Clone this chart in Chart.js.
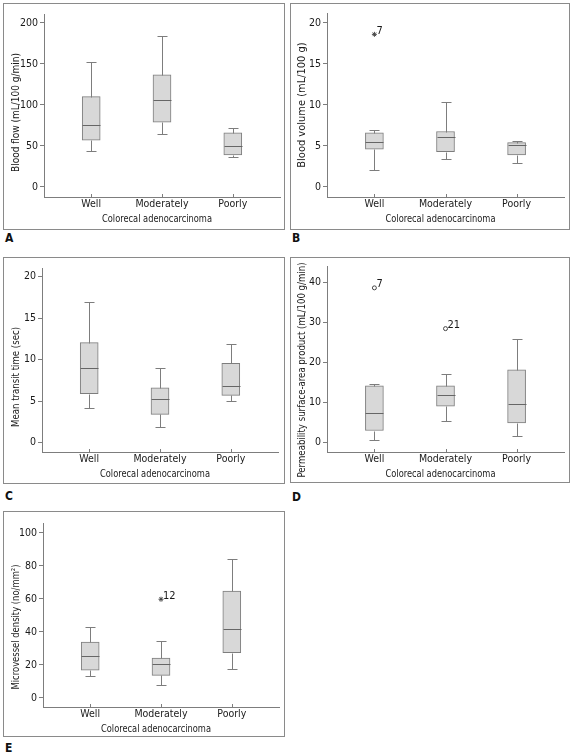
<!DOCTYPE html>
<html>
<head>
<meta charset="utf-8">
<script src="https://cdn.jsdelivr.net/npm/chart.js@4.4.1/dist/chart.umd.min.js"></script>
<style>
  body { margin: 0; background: #fff; width: 574px; height: 754px; position: relative; overflow: hidden; }
  .frame { position: absolute; border: 1px solid #8a8a8a; box-sizing: border-box; }
  canvas { position: absolute; }
  .tag { position: absolute; font: bold 12px 'DejaVu Sans Condensed', sans-serif; color: #111; line-height: 12px; }
</style>
</head>
<body>
<div class="tag" style="left:5px;top:232px">A</div>
<div class="tag" style="left:292px;top:232px">B</div>
<div class="tag" style="left:5px;top:490px">C</div>
<div class="tag" style="left:292px;top:491px">D</div>
<div class="tag" style="left:5px;top:742px">E</div>

<script>
// categorie
const groups = ['Well', 'Moderately', 'Poorly'];
const xTitle = 'Colorecal adenocarcinoma';

// A - blood flow (mL/100 g/min): min, Q1, mediana, Q3, max
const flowLow = [44, 64.5, 37];
const flowQ1 = [57, 79, 39];
const flowMed = [75, 106, 50];
const flowQ3 = [110, 136.5, 66];
const flowHigh = [152, 184, 72];
const flowTicks = [0, 50, 100, 150, 200];

// B - blood volume (mL/100 g)
const volLow = [2.1, 3.4, 2.9];
const volQ1 = [4.6, 4.3, 3.9];
const volMed = [5.5, 6.1, 5.1];
const volQ3 = [6.6, 6.75, 5.4];
const volHigh = [6.9, 10.3, 5.6];
const volOutX = [1];
const volOutY = [18.6];
const volOutLabel = ['7'];
const volTicks = [0, 5, 10, 15, 20];

// C - mean transit time (sec)
const mttLow = [4.2, 1.9, 5.0];
const mttQ1 = [5.9, 3.4, 5.7];
const mttMed = [9.05, 5.25, 6.8];
const mttQ3 = [12.05, 6.6, 9.55];
const mttHigh = [17.0, 9.0, 11.9];
const mttTicks = [0, 5, 10, 15, 20];

// D - permeability surface-area product (mL/100 g/min)
const psLow = [0.6, 5.3, 1.6];
const psQ1 = [2.9, 9.0, 4.8];
const psMed = [7.3, 11.9, 9.5];
const psQ3 = [14.1, 14.1, 18.1];
const psHigh = [14.6, 17.1, 25.8];
const psOutX = [1, 2];
const psOutY = [38.6, 28.4];
const psOutLabel = ['7', '21'];
const psTicks = [0, 10, 20, 30, 40];

// E - microvessel density (no/mm2)
const mvdLow = [13.5, 7.6, 17.4];
const mvdQ1 = [16.8, 13.7, 27.4];
const mvdMed = [25.3, 20.4, 41.5];
const mvdQ3 = [33.9, 24.1, 64.7];
const mvdHigh = [42.9, 34.3, 84.1];
const mvdOutX = [2];
const mvdOutY = [59.8];
const mvdOutLabel = ['12'];
const mvdTicks = [0, 20, 40, 60, 80, 100];

const FONT = "'DejaVu Sans Condensed', 'Liberation Sans Narrow', sans-serif";
const TEXT = '#1a1a1a';
const LINE = '#7d7d7d';

// baffi, mediana, tacche interne dell'asse x, titoli degli assi ed etichette dei valori anomali
const boxWhiskers = {
  id: 'boxWhiskers',
  afterDatasetsDraw(chart, args, o) {
    const { ctx, scales: { x, y } } = chart;
    ctx.save();
    ctx.lineWidth = 1;
    ctx.strokeStyle = LINE;
    o.low.forEach((lo, i) => {
      const cx = Math.round(x.getPixelForValue(i + 1)) + 0.5;
      const px = v => Math.round(y.getPixelForValue(v)) + 0.5;
      ctx.beginPath();
      ctx.moveTo(cx, px(o.q3[i])); ctx.lineTo(cx, px(o.high[i]));
      ctx.moveTo(cx, px(o.q1[i])); ctx.lineTo(cx, px(lo));
      ctx.moveTo(cx - 5, px(o.high[i])); ctx.lineTo(cx + 5, px(o.high[i]));
      ctx.moveTo(cx - 5, px(lo)); ctx.lineTo(cx + 5, px(lo));
      ctx.stroke();
      ctx.beginPath();
      ctx.strokeStyle = '#666';
      ctx.moveTo(cx - 9, px(o.med[i])); ctx.lineTo(cx + 9, px(o.med[i]));
      ctx.stroke();
      ctx.strokeStyle = LINE;
      // tacca verso l'interno sull'asse x
      ctx.beginPath();
      ctx.moveTo(cx, y.bottom); ctx.lineTo(cx, y.bottom - 3);
      ctx.stroke();
    });
    ctx.fillStyle = TEXT;
    ctx.font = '11px ' + FONT;
    // numeri dei casi anomali
    ctx.textBaseline = 'bottom';
    (o.outX || []).forEach((ox, i) => {
      ctx.fillText(o.outLabel[i], x.getPixelForValue(ox) + 2, y.getPixelForValue(o.outY[i]) + 2);
    });
    // titolo asse x (un po' a sinistra del centro, come nell'originale)
    ctx.textAlign = 'center';
    ctx.textBaseline = 'middle';
    ctx.fillText(xTitle, (x.left + x.right) / 2 - 5, y.bottom + 22.5, 110);
    // titolo asse y, ruotato
    ctx.translate(o.yTitlePos[0], o.yTitlePos[1]);
    ctx.rotate(-Math.PI / 2);
    ctx.fillText(o.yTitle, 0, 0, o.yTitlePos[2]);
    ctx.restore();
  }
};

function makeBoxChart(frame, plot, yRange, yTicks, st) {
  const [fl, ft, fr, fb] = frame;
  const [pl, pt, pr, pb] = plot;
  const div = document.createElement('div');
  div.className = 'frame';
  Object.assign(div.style, { left: fl + 'px', top: ft + 'px', width: (fr - fl + 1) + 'px', height: (fb - ft + 1) + 'px' });
  document.body.appendChild(div);

  const cv = document.createElement('canvas');
  const w = fr - fl - 1, h = fb - ft - 1;
  cv.width = w; cv.height = h;
  Object.assign(cv.style, { left: (fl + 1) + 'px', top: (ft + 1) + 'px', width: w + 'px', height: h + 'px' });
  document.body.appendChild(cv);
  // posizione del titolo y in coordinate del canvas
  st.yTitlePos = [st.yTitlePos[0] - fl - 1, st.yTitlePos[1] - ft - 1, st.yTitlePos[2]];

  const datasets = [{
    type: 'bar',
    data: groups.map((g, i) => ({ x: i + 1, y: [st.q1[i], st.q3[i]] })),
    backgroundColor: '#d8d8d8',
    borderColor: LINE,
    borderWidth: 1,
    borderSkipped: false,
    barThickness: 18
  }];
  if (st.outX) {
    datasets.push({
      type: 'scatter',
      data: st.outX.map((v, i) => ({ x: v, y: st.outY[i] })),
      pointStyle: st.outStyle,
      radius: st.outStyle === 'star' ? 2.5 : 2,
      borderColor: '#444',
      backgroundColor: '#fff',
      borderWidth: 1
    });
  }

  new Chart(cv, {
    type: 'bar',
    data: { datasets },
    plugins: [boxWhiskers],
    options: {
      responsive: false,
      animation: false,
      layout: { padding: { top: pt - ft - 1, right: fr - 1 - pr, left: 0, bottom: 0 } },
      plugins: {
        legend: { display: false },
        tooltip: { enabled: false },
        boxWhiskers: st
      },
      scales: {
        x: {
          type: 'linear',
          offset: false,
          min: 1 - 2 / 3,
          max: 3 + 2 / 3,
          afterBuildTicks: s => { s.ticks = groups.map((g, i) => ({ value: i + 1 })); },
          afterFit: s => { s.height = fb - 1 - pb; },
          grid: { display: false, drawTicks: false },
          border: { display: true, color: LINE },
          ticks: { color: TEXT, font: { family: FONT, size: 10.5 }, padding: 1, maxRotation: 0, autoSkip: false, callback: v => groups[v - 1] }
        },
        y: {
          min: yRange[0],
          max: yRange[1],
          afterBuildTicks: s => { s.ticks = yTicks.map(v => ({ value: v })); },
          afterFit: s => { s.width = pl - fl - 1; },
          grid: { drawOnChartArea: false, tickLength: 4, color: LINE },
          border: { display: true, color: LINE },
          ticks: { color: TEXT, font: { family: FONT, size: 10.5 }, padding: 2 }
        }
      }
    }
  });
}

makeBoxChart([3, 3, 284, 229], [44, 14, 279, 196], [-12.2, 210.7], flowTicks,
  { low: flowLow, q1: flowQ1, med: flowMed, q3: flowQ3, high: flowHigh,
    yTitle: 'Blood flow (mL/100 g/min)', yTitlePos: [16, 112.5, 119] });
makeBoxChart([290, 3, 569, 229], [327, 13, 563, 196], [-1.23, 21.2], volTicks,
  { low: volLow, q1: volQ1, med: volMed, q3: volQ3, high: volHigh, outX: volOutX, outY: volOutY, outLabel: volOutLabel, outStyle: 'star',
    yTitle: 'Blood volume (mL/100 g)', yTitlePos: [302, 105, 134] });
makeBoxChart([3, 257, 284, 483], [42, 268, 277, 451], [-1.13, 21.05], mttTicks,
  { low: mttLow, q1: mttQ1, med: mttMed, q3: mttQ3, high: mttHigh,
    yTitle: 'Mean transit time (sec)', yTitlePos: [16, 377, 100] });
makeBoxChart([290, 257, 569, 482], [327, 263, 563, 451], [-2.48, 44.0], psTicks,
  { low: psLow, q1: psQ1, med: psMed, q3: psQ3, high: psHigh, outX: psOutX, outY: psOutY, outLabel: psOutLabel, outStyle: 'circle',
    yTitle: 'Permeability surface-area product (mL/100 g/min)', yTitlePos: [302, 370, 215] });
makeBoxChart([3, 511, 284, 736], [43, 523, 279, 706], [-5.5, 106], mvdTicks,
  { low: mvdLow, q1: mvdQ1, med: mvdMed, q3: mvdQ3, high: mvdHigh, outX: mvdOutX, outY: mvdOutY, outLabel: mvdOutLabel, outStyle: 'star',
    yTitle: 'Microvessel density (no/mm\u00b2)', yTitlePos: [16, 627, 125] });
</script>
</body>
</html>
